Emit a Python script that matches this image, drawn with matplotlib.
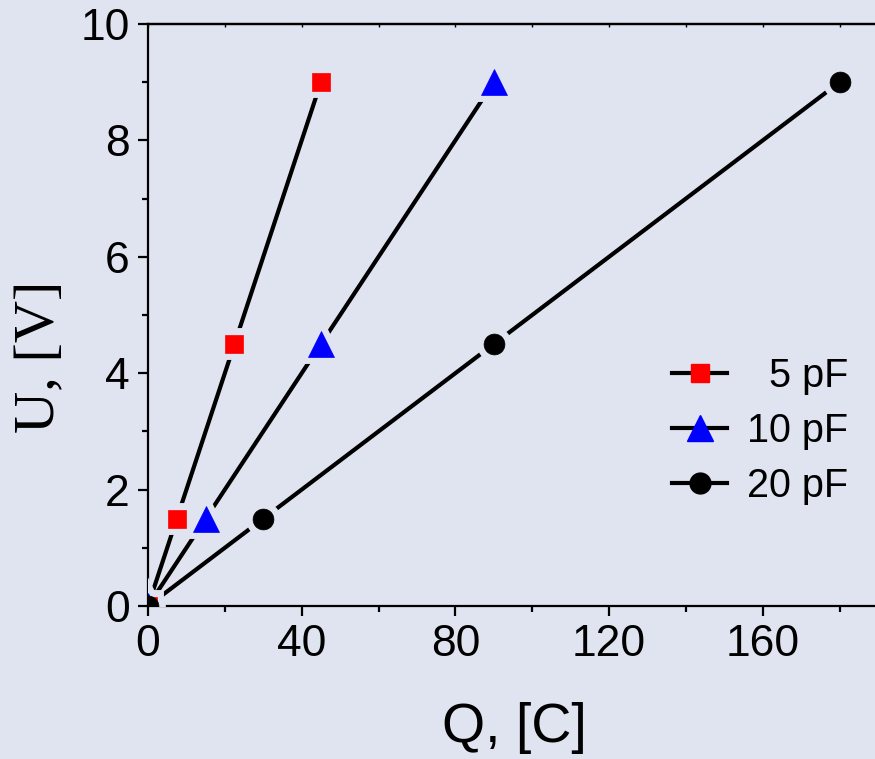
import numpy as np
import matplotlib
matplotlib.use("Agg")
import matplotlib.pyplot as plt
from matplotlib.lines import Line2D
from matplotlib.ticker import MultipleLocator

# data
U = [0, 1.5, 4.5, 9]
Q_5pF = [0, 7.5, 22.5, 45]
Q_10pF = [0, 15, 45, 90]
Q_20pF = [0, 30, 90, 180]
labels = ["  5 pF", "10 pF", "20 pF"]

bg = "#e0e4f0"
series = [
    (Q_5pF, "s", "#ff0000", 13.5),
    (Q_10pF, "^", "#0000ff", 18.5),
    (Q_20pF, "o", "#000000", 15),
]

fig = plt.figure(figsize=(8.75, 7.59), dpi=100, facecolor=bg)
# axes run a bit past the right edge of the picture, like in the reference
ax = fig.add_axes([148 / 875, 153 / 759, 730 / 875, 582 / 759])
ax.set_facecolor(bg)

handles = []
for q, m, c, ms in series:
    ax.plot(q, U, color="black", lw=3, zorder=2)
    # background halo so the line stops short of the markers
    ax.plot(q, U, ls="none", marker=m, ms=ms, mfc=bg, mec=bg, mew=10, zorder=3)
    ax.plot(q, U, ls="none", marker=m, ms=ms, mfc=c, mec=c, mew=0.5, zorder=4)
    handles.append(Line2D([], [], color="black", lw=3, marker=m, ms=ms,
                          mfc=c, mec=c))

ax.set_xlim(0, 190)
ax.set_ylim(0, 10)
ax.xaxis.set_major_locator(MultipleLocator(40))
ax.xaxis.set_minor_locator(MultipleLocator(20))
ax.yaxis.set_major_locator(MultipleLocator(2))
ax.yaxis.set_minor_locator(MultipleLocator(1))

for s in ["left", "bottom", "top"]:
    ax.spines[s].set_linewidth(1.6)
ax.spines["right"].set_visible(False)

ax.tick_params(which="major", direction="out", length=7, width=1.6, pad=6,
               labelsize=32)
ax.tick_params(which="minor", direction="out", length=4, width=1.6)
for lbl in ax.get_xticklabels() + ax.get_yticklabels():
    lbl.set_fontfamily("Liberation Sans")

# tiny inward ticks on the top edge
top = ax.secondary_xaxis("top")
top.xaxis.set_major_locator(MultipleLocator(20))
top.tick_params(direction="in", length=2, width=1, labeltop=False)
top.spines["top"].set_linewidth(1.6)

fig.text(514 / 875, 1 - 728 / 759, "Q, [C]", fontsize=40,
         family="Liberation Sans", ha="center", va="center")
fig.text(40 / 875, 1 - 357 / 759, "U, [V]", fontsize=42,
         family="Liberation Serif", ha="center", va="center", rotation=90)

leg = fig.legend(handles, labels, loc="center left",
                 bbox_to_anchor=(672 / 875, (759 - 431) / 759),
                 frameon=False, handlelength=1.4,
                 handletextpad=0.5, labelspacing=0.43, borderpad=0,
                 borderaxespad=0, prop={"family": "Liberation Sans", "size": 28.5})

fig.savefig("out.png", dpi=100, facecolor=bg)
